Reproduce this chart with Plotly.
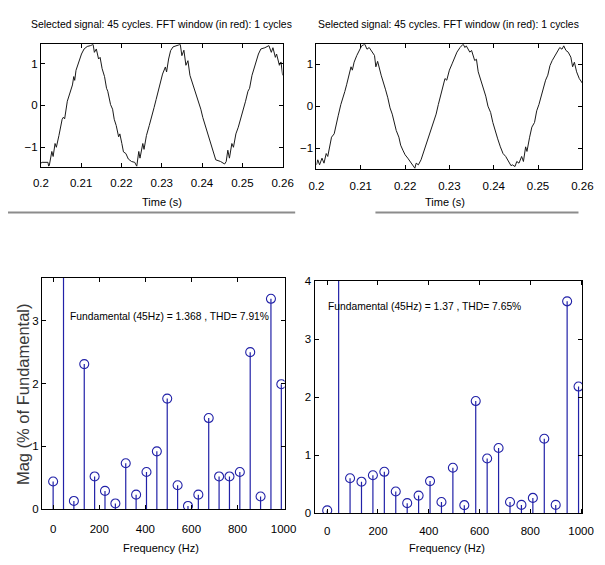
import plotly.graph_objects as go

# ---------------- data ----------------
# time offsets (ms after 0.2 s) and signal values
left_t_ms = [0, 0.3, 1.76, 1.92, 2.08, 2.72, 3.04, 3.52, 3.84, 4.48, 5.28, 5.6, 5.9, 6.56, 6.88,
             7.52, 7.84, 8.16, 8.4, 8.72, 9.12, 9.6, 10.08, 10.72, 11.5, 12.3, 12.96, 13.28, 13.76,
             14.32, 14.7, 15.2, 15.8, 16.3, 16.6, 17.3, 17.8, 18.2, 18.7, 19.3, 19.6, 20.1, 20.5,
             21.1, 21.7, 22.5, 23.3, 23.8, 24.3, 24.6, 25.3, 25.6, 26.2, 26.9, 27.5, 28.1, 28.6,
             29.3, 29.8, 30.2, 30.9, 31.2, 31.7, 32.2, 32.8, 33.8, 34.6, 35.0, 35.5, 36.0, 36.5,
             37.0, 37.8, 38.6, 39.2, 39.7, 40.2, 40.8, 41.3, 41.8, 42.4, 42.9, 43.4, 44.6, 45.6,
             46.0, 46.4, 46.8, 47.4, 47.8, 48.4, 49.0, 49.6, 50.2, 50.8, 51.4, 51.8, 52.4, 52.9,
             53.4, 54.0, 54.6, 55.6, 56.6, 57.2, 57.6, 58.2, 58.5, 59.2, 59.6, 60.0]
left_signal = [-1.38, -1.36, -1.36, -1.45, -1.44, -1.10, -1.22, -0.91, -1.00, -0.72, -0.33, -0.28, -0.32, 0.10, 0.20,
               0.41, 0.49, 0.69, 0.60, 0.84, 0.96, 1.11, 1.23, 1.35, 1.41, 1.43, 1.46, 1.27, 1.35,
               1.11, 1.15, 0.88, 0.69, 0.41, 0.34, 0.02, -0.09, -0.33, -0.48, -0.75, -0.68, -0.91, -1.11,
               -1.15, -1.28, -1.34, -1.36, -1.455, -1.10, -1.26, -0.91, -1.05, -0.72, -0.48, -0.29, -0.05, 0.14,
               0.41, 0.57, 0.75, 0.92, 0.80, 1.11, 1.31, 1.40, 1.43, 1.46, 1.19, 1.32, 0.96, 1.07,
               0.72, 0.49, 0.22, 0.06, -0.09, -0.29, -0.48, -0.64, -0.79, -0.99, -1.10, -1.30, -1.34, -1.40,
               -1.34, -1.07, -1.26, -0.91, -1.00, -0.68, -0.52, -0.33, -0.09, 0.10, 0.34, 0.41, 0.72, 0.88,
               1.04, 1.23, 1.35, 1.38, 1.43, 1.27, 1.38, 1.15, 1.23, 0.96, 1.04, 0.72]

# top-right waveform
right_t_ms = [0, 0.3, 0.7, 1.25, 1.7, 2.2, 2.55, 2.9, 3.4, 4.0, 4.4, 4.9, 5.5, 5.9, 6.4, 6.8, 7.3,
              7.8, 8.1, 8.5, 9.1, 9.7, 10.2, 10.9, 11.4, 11.9, 12.6, 13.1, 13.4, 13.8, 14.6, 15.1,
              15.6, 16.1, 16.6, 17.1, 17.6, 18.0, 18.6, 19.0, 19.5, 20.0, 20.6, 21.2, 21.7, 22.2,
              22.5, 23.0, 23.6, 24.2, 24.8, 25.3, 25.8, 26.4, 27.0, 27.5, 28.0, 28.6, 29.0, 29.4,
              30.0, 30.6, 31.2, 31.7, 32.4, 33.1, 33.5, 33.8, 34.6, 35.0, 35.7, 36.1, 36.5, 37.1,
              37.7, 38.2, 38.7, 39.3, 39.8, 40.4, 40.9, 41.5, 42.1, 42.7, 43.3, 43.9, 44.2, 44.8,
              45.2, 45.7, 46.3, 46.7, 47.2, 47.5, 48.1, 48.6, 49.2, 49.7, 50.2, 50.8, 51.3, 51.7,
              52.2, 52.7, 53.2, 53.8, 54.4, 54.9, 55.4, 55.8, 56.3, 56.8, 57.4, 57.8, 58.2, 58.7,
              59.3, 60.0]
right_signal = [-1.40, -1.28, -1.40, -1.24, -1.36, -1.13, -1.20, -0.97, -0.74, -0.66, -0.43, -0.23, 0.04, 0.16, 0.35, 0.51, 0.74,
                0.94, 0.86, 1.05, 1.21, 1.32, 1.44, 1.48, 1.36, 1.40, 1.29, 1.21, 0.94, 1.07, 0.74, 0.59,
                0.39, 0.20, -0.04, -0.19, -0.43, -0.58, -0.74, -0.93, -1.05, -1.16, -1.24, -1.34, -1.40, -1.48,
                -1.36, -1.40, -1.28, -1.09, -0.89, -0.74, -0.58, -0.39, -0.19, 0.04, 0.27, 0.51, 0.66, 0.62,
                0.86, 1.01, 1.17, 1.29, 1.40, 1.48, 1.40, 1.44, 1.29, 1.33, 1.09, 1.12, 0.82, 0.62,
                0.43, 0.24, 0.0, -0.15, -0.39, -0.62, -0.78, -0.97, -1.13, -1.20, -1.32, -1.42, -1.40, -1.44,
                -1.32, -1.36, -1.20, -1.32, -0.97, -1.08, -0.74, -0.50, -0.39, -0.11, 0.04, 0.27, 0.43, 0.62,
                0.74, 0.97, 1.09, 1.21, 1.33, 1.40, 1.36, 1.44, 1.33, 1.29, 1.17, 0.94, 1.05, 0.82,
                0.66, 0.55]

# spectrum bins (Hz) and magnitudes (% of fundamental)
freqs = [0, 45, 90, 135, 180, 225, 270, 315, 360, 405, 450, 495, 540, 585, 630, 675, 720,
         765, 810, 855, 900, 945, 990]
left_mag = [0.44, 100, 0.13, 2.31, 0.52, 0.29, 0.09, 0.73, 0.23, 0.59, 0.92, 1.76, 0.38, 0.05,
            0.23, 1.45, 0.52, 0.52, 0.59, 2.50, 0.20, 3.35, 1.99]
right_mag = [0.045, 100, 0.60, 0.54, 0.65, 0.71, 0.37, 0.17, 0.30, 0.55, 0.19, 0.78, 0.135, 1.93,
             0.94, 1.12, 0.19, 0.14, 0.26, 1.28, 0.14, 3.65, 2.18]

title_text = "Selected signal: 45 cycles. FFT window (in red): 1 cycles"
left_note = "Fundamental (45Hz) = 1.368 , THD= 7.91%"
right_note = "Fundamental (45Hz) = 1.37 , THD= 7.65%"
time_ticks = [0.2, 0.21, 0.22, 0.23, 0.24, 0.25, 0.26]
time_tick_text = ["0.2", "0.21", "0.22", "0.23", "0.24", "0.25", "0.26"]
freq_ticks = [0, 200, 400, 600, 800, 1000]

assert len(left_t_ms) == len(left_signal)
assert len(right_t_ms) == len(right_signal)

# ---------------- figure ----------------
W, H = 605, 565
FONT = "Liberation Sans, Arial, sans-serif"
STEM = "#2222a8"


def px_x(a, b):
    return [a / W, b / W]


def px_y(top, bottom):
    return [1 - bottom / H, 1 - top / H]


fig = go.Figure()

left_t = [0.2 + v / 1000 for v in left_t_ms]
right_t = [0.2 + v / 1000 for v in right_t_ms]

fig.add_trace(go.Scatter(x=left_t, y=left_signal, mode="lines",
                         line=dict(color="#1a1a1a", width=1), xaxis="x", yaxis="y"))
fig.add_trace(go.Scatter(x=right_t, y=right_signal, mode="lines",
                         line=dict(color="#1a1a1a", width=1), xaxis="x2", yaxis="y2"))


def stems(f, m):
    xs, ys = [], []
    for a, b in zip(f, m):
        xs += [a, a, None]
        ys += [0, b, None]
    return xs, ys


for mags, xa, ya in [(left_mag, "x3", "y3"), (right_mag, "x4", "y4")]:
    sx, sy = stems(freqs, mags)
    fig.add_trace(go.Scatter(x=sx, y=sy, mode="lines", line=dict(color=STEM, width=1.2),
                             xaxis=xa, yaxis=ya))
    fig.add_trace(go.Scatter(x=freqs, y=mags, mode="markers",
                             marker=dict(symbol="circle-open", size=9, color=STEM,
                                         line=dict(width=1.1, color=STEM)),
                             xaxis=xa, yaxis=ya))

axis_common = dict(showline=True, linecolor="black", linewidth=1, mirror="allticks",
                   ticks="inside", ticklen=4, tickcolor="black", showgrid=False, zeroline=False,
                   tickfont=dict(family=FONT, size=11.5, color="black"))

fig.update_layout(
    width=W, height=H, margin=dict(l=0, r=0, t=0, b=0),
    paper_bgcolor="white", plot_bgcolor="white", showlegend=False,
    xaxis=dict(domain=px_x(34, 284), range=[0.2, 0.26], tickvals=time_ticks,
               ticktext=time_tick_text, anchor="y", ticklabelstandoff=6, **axis_common),
    yaxis=dict(domain=px_y(39, 164), range=[-1.46, 1.465], tickvals=[-1, 0, 1],
               anchor="x", **axis_common),
    xaxis2=dict(domain=px_x(319, 594), range=[0.2, 0.26], tickvals=time_ticks,
                ticktext=time_tick_text, anchor="y2", ticklabelstandoff=6, **axis_common),
    yaxis2=dict(domain=px_y(39, 167), range=[-1.51, 1.48], tickvals=[-1, 0, 1],
                anchor="x2", **axis_common),
    xaxis3=dict(domain=px_x(35, 286), range=[-49, 1004], tickvals=freq_ticks,
                anchor="y3", ticklabelstandoff=9, **axis_common),
    yaxis3=dict(domain=px_y(278, 514), range=[0, 3.68], tickvals=[0, 1, 2, 3],
                anchor="x3", **axis_common),
    xaxis4=dict(domain=px_x(317, 594), range=[-50, 1005], tickvals=freq_ticks,
                anchor="y4", ticklabelstandoff=7, **axis_common),
    yaxis4=dict(domain=px_y(281, 518), range=[0, 4], tickvals=[0, 1, 2, 3, 4],
                anchor="x4", **axis_common),
)


def ann(text, x, y, size=10.3, angle=0, xanchor="center", color="black", family=FONT):
    fig.add_annotation(text=text, x=x / W, y=1 - y / H, xref="paper", yref="paper",
                       showarrow=False, xanchor=xanchor, yanchor="middle", textangle=angle,
                       font=dict(family=family, size=size, color=color))


ann(title_text, 159, 19, size=10.4)
ann(title_text, 456, 19, size=10.4)
ann("Time (s)", 159, 200, size=11)
ann("Time (s)", 452, 200, size=11)
ann("Frequency (Hz)", 158, 554, size=11)
ann("Frequency (Hz)", 454, 554, size=11)
ann("Mag (% of Fundamental)", 15, 397, size=16.5, angle=-90, color="#3a3a3a")
ann(left_note, 62, 317, size=10.3, xanchor="left")
ann(right_note, 329, 307, size=10.3, xanchor="left")

# gray separator lines under the top panels
fig.add_shape(type="line", xref="paper", yref="paper", x0=0, x1=297 / W,
              y0=1 - 211 / H, y1=1 - 211 / H, line=dict(color="#8c8c8c", width=2))
fig.add_shape(type="line", xref="paper", yref="paper", x0=380 / W, x1=590 / W,
              y0=1 - 211 / H, y1=1 - 211 / H, line=dict(color="#8c8c8c", width=2))

fig.write_html("out.html")
